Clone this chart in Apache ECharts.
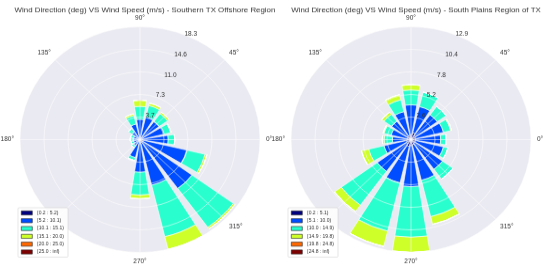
<!DOCTYPE html>
<html><head><meta charset="utf-8">
<script src="https://cdn.jsdelivr.net/npm/echarts@6/dist/echarts.min.js"></script>
<style>html,body{margin:0;padding:0;background:#fff;overflow:hidden;width:550px;height:269px}
#c{width:550px;height:286px;transform:scaleY(0.94);transform-origin:0 0}</style>
</head><body><div id="c"></div>
<script>
// Direction sectors (deg, counter-clockwise from east)
const directions = ['0','22.5','45','67.5','90','112.5','135','157.5','180','202.5','225','247.5','270','292.5','315','337.5'];

// Left: Southern TX Offshore Region (frequency % per speed bin)
const leftTitle = 'Wind Direction (deg) VS Wind Speed (m/s) - Southern TX Offshore Region';
const leftBins = ['[0.2 : 5.2)','[5.2 : 10.1)','[10.1 : 15.1)','[15.1 : 20.0)','[20.0 : 25.0)','[25.0 : inf)'];
const leftNavy   = [0.4,0.4,0.4,0.4,0.4,0.4,0.3,0.3,0.3,0.3,0.3,0.3,0.5,0.5,0.5,0.5];
const leftBlue   = [3.9,3.4,3.2,3.4,2.9,2.2,1.2,0.7,0.7,0.7,0.9,2.7,4.8,7.1,9.3,6.9];
const leftCyan   = [1.0,1.0,1.6,1.9,2.1,1.4,0.7,0.5,0.5,0.4,0.4,0.5,3.7,8.6,7.8,2.8];
const leftYellow = [0.0,0.1,0.3,0.4,1.0,0.3,0.0,0.0,0.0,0.0,0.0,0.0,0.6,2.1,0.3,0.3];
const leftOrange = [0,0,0,0,0,0,0,0,0,0,0,0,0,0,0,0];
const leftRed    = [0,0,0,0,0,0,0,0,0,0,0,0,0,0,0,0];
const leftMax = 18.3;

// Right: South Plains Region of TX
const rightTitle = 'Wind Direction (deg) VS Wind Speed (m/s) - South Plains Region of TX';
const rightBins = ['[0.2 : 5.1)','[5.1 : 10.0)','[10.0 : 14.9)','[14.9 : 19.8)','[19.8 : 24.8)','[24.8 : inf)'];
const rightNavy   = [0.5,0.5,0.6,0.8,0.6,0.5,0.5,0.4,0.4,0.5,0.6,0.8,0.7,0.6,0.5,0.5];
const rightBlue   = [2.7,3.1,2.9,3.1,3.4,2.8,2.1,1.8,1.6,2.5,3.9,4.3,4.7,4.2,3.7,3.1];
const rightCyan   = [0.6,0.8,1.2,1.7,1.7,1.4,1.0,0.8,0.9,1.7,4.8,5.7,5.8,4.3,1.4,0.5];
const rightYellow = [0.0,0.1,0.0,0.0,0.6,0.6,0.3,0.1,0.2,0.8,0.9,1.8,1.74,0.9,0.0,0.0];
const rightOrange = [0,0,0,0,0,0,0,0,0,0,0,0,0,0,0,0];
const rightRed    = [0,0,0,0,0,0,0,0,0,0,0,0,0,0,0,0];
const rightMax = 12.94;

const binColors = ['#00007F','#004CFF','#29FFCE','#CEFF29','#FF6800','#7F0000'];
const FONT = '"Liberation Sans", Arial, sans-serif';

const chart = echarts.init(document.getElementById('c'), null, {renderer:'canvas'});
const option = {animation:false, backgroundColor:'#fff', title:[], legend:[], polar:[], angleAxis:[], radiusAxis:[], series:[]};

function addRose(k, cx, cy, R, rmax, title, bins, values, stackName) {
  const b = k*4;
  for (let i=0;i<4;i++) option.polar.push({center:[cx,cy], radius:R});
  // 0: background disk
  option.angleAxis.push({polarIndex:b, type:'value', min:0, max:360, show:false});
  option.radiusAxis.push({polarIndex:b, type:'value', min:0, max:rmax, interval:rmax/5, z:0,
    axisLine:{show:false}, axisTick:{show:false}, axisLabel:{show:false}, splitLine:{show:false},
    splitArea:{show:true, areaStyle:{color:['#EAEAF2']}}});
  // 1: grid lines + angle labels
  option.angleAxis.push({polarIndex:b+1, type:'value', min:0, max:360, interval:45, startAngle:0, clockwise:false, z:5,
    axisLine:{show:false}, axisTick:{show:false},
    axisLabel:{margin:6, fontSize:6.5, color:'#333', fontFamily:FONT,
      formatter:v => (v===360||v===225) ? '' : v + '°'},
    splitLine:{lineStyle:{color:'rgba(255,255,255,0.55)', width:1}}});
  option.radiusAxis.push({polarIndex:b+1, type:'value', min:0, max:rmax, interval:rmax/5, z:5,
    axisLine:{show:false}, axisTick:{show:false}, axisLabel:{show:false},
    splitLine:{lineStyle:{color:'rgba(255,255,255,0.55)', width:1}}});
  // 2: bars
  option.angleAxis.push({polarIndex:b+2, type:'category', data:directions, startAngle:348.75, clockwise:false, show:false});
  option.radiusAxis.push({polarIndex:b+2, type:'value', min:0, max:rmax, show:false});
  // 3: radial labels
  option.angleAxis.push({polarIndex:b+3, type:'value', min:0, max:360, startAngle:65, show:false});
  option.radiusAxis.push({polarIndex:b+3, type:'value', min:0, max:rmax, interval:rmax/5, z:6,
    axisLine:{show:false}, axisTick:{show:false}, splitLine:{show:false},
    axisLabel:{margin:0, align:'center', verticalAlign:'bottom', fontSize:6.5, color:'#333', fontFamily:FONT,
      formatter:v => v===0 ? '' : v.toFixed(1)}});
  bins.forEach((name, i) => {
    option.series.push({type:'bar', name, coordinateSystem:'polar', polarIndex:b+2, stack:stackName,
      data: values[i], barCategoryGap:'20%',
      itemStyle:{color:binColors[i], borderColor:'#fff', borderWidth:0.6}});
  });
  option.title.push({text:title, left:cx, top:2, textAlign:'center',
    textStyle:{fontSize:7.9, fontWeight:'normal', color:'#333', fontFamily:FONT}});
  option.legend.push({data:bins, orient:'vertical', left: k===0 ? 18 : 288, top:221, z:10,
    itemWidth:11, itemHeight:4.3, itemGap:3.3, icon:'rect', selectedMode:false,
    itemStyle:{borderColor:'#222', borderWidth:0.6},
    textStyle:{fontSize:5, color:'#333', fontFamily:FONT},
    backgroundColor:'rgba(255,255,255,0.85)', borderColor:'#ccc', borderWidth:0.5, borderRadius:1, padding:[3,4,3,3]});
}

addRose(0, 140, 148.5, 120, leftMax, leftTitle, leftBins,
  [leftNavy,leftBlue,leftCyan,leftYellow,leftOrange,leftRed], 'L');
addRose(1, 411, 148.5, 120, rightMax, rightTitle, rightBins,
  [rightNavy,rightBlue,rightCyan,rightYellow,rightOrange,rightRed], 'R');

chart.setOption(option);
</script></body></html>
